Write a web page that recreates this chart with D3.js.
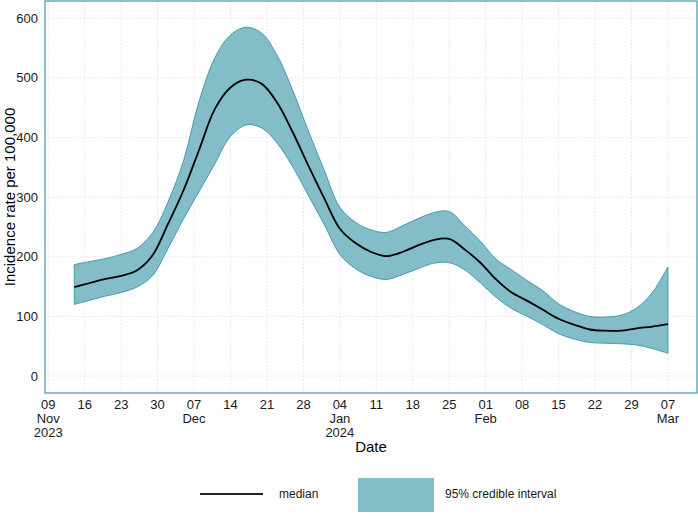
<!DOCTYPE html>
<html>
<head>
<meta charset="utf-8">
<script src="https://cdn.jsdelivr.net/npm/d3@7"></script>
<style>
  body { margin: 0; background: #fff; }
  text { font-family: "Liberation Sans", Arial, sans-serif; }
</style>
</head>
<body>
<div id="chart"></div>
<script>
// data (every 3 days from 14 Nov 2023)
const dates = ["2023-11-14","2023-11-17","2023-11-20","2023-11-23","2023-11-26","2023-11-29",
  "2023-12-02","2023-12-05","2023-12-08","2023-12-11","2023-12-14","2023-12-17","2023-12-20",
  "2023-12-23","2023-12-26","2023-12-29","2024-01-01","2024-01-04","2024-01-07","2024-01-10",
  "2024-01-13","2024-01-16","2024-01-19","2024-01-22","2024-01-25","2024-01-28","2024-01-31",
  "2024-02-03","2024-02-06","2024-02-09","2024-02-12","2024-02-15","2024-02-18","2024-02-21",
  "2024-02-24","2024-02-27","2024-03-01","2024-03-04","2024-03-07"];
const median = [149,156,163,168,177,202,255,312,380,448,484,497,490,458,408,352,298,247,223,208,
  201,208,219,228,230,212,190,162,140,126,111,96,86,78,76,76,80,83,87];
const upper = [187,192,197,204,214,240,292,362,462,534,572,585,575,537,478,410,345,283,258,245,
  241,252,264,274,276,252,226,196,178,160,143,121,108,100,99,102,114,140,183];
const lower = [120,127,134,140,149,168,214,264,310,356,402,421,416,390,350,302,254,204,180,167,
  162,170,180,189,190,178,156,132,113,100,86,71,62,56,55,54,52,46,38];

const tickDates = ["2023-11-09","2023-11-16","2023-11-23","2023-11-30","2023-12-07","2023-12-14",
  "2023-12-21","2023-12-28","2024-01-04","2024-01-11","2024-01-18","2024-01-25","2024-02-01",
  "2024-02-08","2024-02-15","2024-02-22","2024-02-29","2024-03-07"];
const yTicks = [0, 100, 200, 300, 400, 500, 600];

const width = 698, height = 520;
const margin = { left: 45, right: 1, top: 1, bottom: 127 };

const parse = d3.timeParse("%Y-%m-%d");
const data = dates.map((d, i) => ({ date: parse(d), m: median[i], u: upper[i], l: lower[i] }));
const ticks = tickDates.map(parse);

const svg = d3.select("#chart").append("svg")
  .attr("width", width).attr("height", height);

// 9 Nov sits a little inside the left edge, 7 Mar well inside the right
const x = d3.scaleTime()
  .domain([d3.timeHour.offset(parse("2023-11-09"), -0.6 * 24), d3.timeHour.offset(parse("2024-03-07"), 5.6 * 24)])
  .range([margin.left, width - margin.right]);

const y = d3.scaleLinear()
  .domain([-28.5, 629])
  .range([height - margin.bottom, margin.top]);

// grid
const grid = svg.append("g").attr("stroke", "#e8e8e8").attr("stroke-dasharray", "2,1.5");
grid.selectAll(".gy").data(yTicks).enter().append("line")
  .attr("x1", margin.left).attr("x2", width - margin.right)
  .attr("y1", d => y(d)).attr("y2", d => y(d));
grid.selectAll(".gx").data(ticks).enter().append("line")
  .attr("y1", margin.top).attr("y2", height - margin.bottom)
  .attr("x1", d => x(d)).attr("x2", d => x(d));

// band
const area = d3.area()
  .curve(d3.curveCatmullRom)
  .x(d => x(d.date))
  .y0(d => y(d.l))
  .y1(d => y(d.u));

svg.append("path")
  .datum(data)
  .attr("d", area)
  .attr("fill", "#82bdc8")
  .attr("stroke", "#2a8d9d")
  .attr("stroke-width", 0.8);

const line = d3.line()
  .curve(d3.curveCatmullRom)
  .x(d => x(d.date))
  .y(d => y(d.m));

svg.append("path")
  .datum(data)
  .attr("d", line)
  .attr("fill", "none")
  .attr("stroke", "#000")
  .attr("stroke-width", 1.8);

// panel border
svg.append("rect")
  .attr("x", margin.left).attr("y", margin.top)
  .attr("width", width - margin.left - margin.right)
  .attr("height", height - margin.bottom - margin.top)
  .attr("fill", "none")
  .attr("stroke", "#3a9bab")
  .attr("stroke-width", 1.2);

// y axis labels
svg.append("g").selectAll("text").data(yTicks).enter().append("text")
  .attr("x", 38).attr("y", d => y(d))
  .attr("dy", "0.35em")
  .attr("text-anchor", "end")
  .attr("font-size", 13)
  .attr("fill", "#1a1a1a")
  .text(d => d);

// x axis labels (day / month / year)
const fmtMonth = d3.timeFormat("%b"), fmtDay = d3.timeFormat("%d"), fmtYear = d3.timeFormat("%Y");
const xl = svg.append("g").selectAll("text").data(ticks).enter().append("text")
  .attr("x", d => x(d)).attr("y", 409)
  .attr("text-anchor", "middle")
  .attr("font-size", 13)
  .attr("fill", "#1a1a1a");
xl.each(function(d, i) {
  const t = d3.select(this);
  t.append("tspan").attr("x", x(d)).text(fmtDay(d));
  const prev = ticks[i - 1];
  if (!prev || prev.getMonth() !== d.getMonth()) t.append("tspan").attr("x", x(d)).attr("dy", 14).text(fmtMonth(d));
  if (!prev || prev.getFullYear() !== d.getFullYear()) t.append("tspan").attr("x", x(d)).attr("dy", 14).text(fmtYear(d));
});

// axis titles
svg.append("text")
  .attr("x", (margin.left + width - margin.right) / 2).attr("y", 452)
  .attr("text-anchor", "middle").attr("font-size", 15).attr("fill", "#000")
  .text("Date");
svg.append("text")
  .attr("transform", `translate(15,${(margin.top + height - margin.bottom) / 2}) rotate(-90)`)
  .attr("text-anchor", "middle").attr("font-size", 15).attr("fill", "#000")
  .text("Incidence rate per 100,000");

// legend
const lg = svg.append("g");
lg.append("line").attr("x1", 200).attr("x2", 263).attr("y1", 494).attr("y2", 494)
  .attr("stroke", "#222").attr("stroke-width", 1.8);
lg.append("text").attr("x", 279).attr("y", 494).attr("dy", "0.35em")
  .attr("font-size", 12).attr("fill", "#1a1a1a").text("median");
lg.append("rect").attr("x", 358).attr("y", 478).attr("width", 76).attr("height", 34)
  .attr("fill", "#82bdc8");
lg.append("text").attr("x", 445).attr("y", 494).attr("dy", "0.35em")
  .attr("font-size", 12).attr("fill", "#1a1a1a").text("95% credible interval");
</script>
</body>
</html>
